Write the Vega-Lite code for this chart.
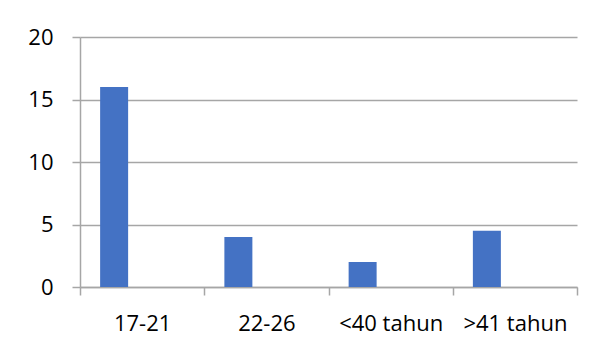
{
  "$schema": "https://vega.github.io/schema/vega-lite/v6.json",
  "autosize": {"type": "none"},
  "padding": {"left": 80, "top": 37, "right": 18, "bottom": 62},
  "width": 497,
  "height": 250,
  "background": "white",
  "config": {
    "view": {"stroke": null},
    "font": "Open Sans"
  },
  "data": {
    "values": [
      {"usia": "17-21", "jumlah": 16},
      {"usia": "22-26", "jumlah": 4},
      {"usia": "<40 tahun", "jumlah": 2},
      {"usia": ">41 tahun", "jumlah": 4.5}
    ]
  },
  "mark": {"type": "bar", "color": "#4472C4", "width": 28, "xOffset": -28},
  "encoding": {
    "x": {
      "field": "usia",
      "type": "nominal",
      "sort": null,
      "scale": {"paddingInner": 0, "paddingOuter": 0},
      "axis": {
        "title": null,
        "labelAngle": 0,
        "labelFontSize": 22,
        "labelColor": "#000000",
        "labelPadding": 18,
        "tickBand": "extent",
        "tickSize": 8,
        "tickColor": "#a6a6a6",
        "tickWidth": 1.5,
        "domainColor": "#a6a6a6",
        "domainWidth": 1.5
      }
    },
    "y": {
      "field": "jumlah",
      "type": "quantitative",
      "scale": {"domain": [0, 20], "nice": false},
      "axis": {
        "title": null,
        "values": [0, 5, 10, 15, 20],
        "labelFontSize": 22,
        "labelColor": "#000000",
        "labelPadding": 19,
        "tickSize": 8,
        "tickColor": "#a6a6a6",
        "tickWidth": 1.5,
        "domainColor": "#a6a6a6",
        "domainWidth": 1.5,
        "gridColor": "#a6a6a6",
        "gridWidth": 1.5,
        "gridOpacity": 1
      }
    }
  }
}
